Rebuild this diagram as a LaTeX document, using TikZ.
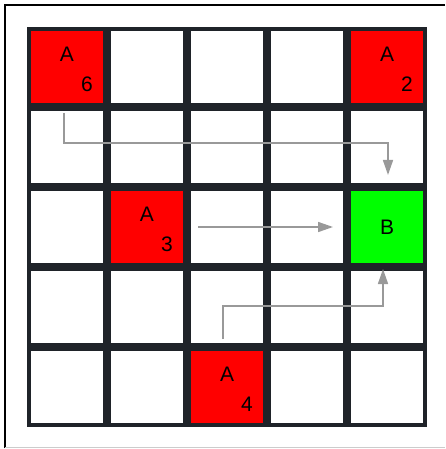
\documentclass[tikz,border=0pt]{standalone}
\usepackage{fontspec}
\setmainfont{Liberation Sans}
\usetikzlibrary{arrows.meta}
\definecolor{gridline}{RGB}{31,35,41}
\definecolor{agent}{RGB}{255,0,0}
\definecolor{goal}{RGB}{0,255,0}

\begin{document}
\begin{tikzpicture}[x=1pt,y=-1pt,
    cell/.style={draw=gridline,line width=4pt,minimum size=76pt,inner sep=0pt,outer sep=0pt},
    move/.style={draw=black!40,line width=1.6pt,-{Triangle[length=15pt,width=10pt]}},
    tag/.style={font=\fontsize{21}{21}\selectfont,inner sep=0pt}]
  \useasboundingbox (0,0) rectangle (445,449);
  % --- frame
  \draw[line width=2pt] (5,448) -- (5,5) -- (445,5);
  \draw[black!20,line width=1pt] (5,447.5) -- (445,447.5);
  % --- grid
  \foreach \i in {0,...,4}{
    \foreach \j in {0,...,4}{
      \node[cell] (c\i\j) at (67+80*\i,67+80*\j) {};}}
  % --- agents and goal
  \node[cell,fill=agent] (a6) at (c00) {};
  \node[cell,fill=agent] (a2) at (c40) {};
  \node[cell,fill=agent] (a3) at (c12) {};
  \node[cell,fill=agent] (a4) at (c24) {};
  \node[cell,fill=goal] (b) at (c42) {};
  \foreach \a/\n in {a6/6,a2/2,a3/3,a4/4}{
    \node[tag] (\a-name) at ([yshift=13pt]\a.center) {A};
    \node[tag] (\a-num) at ([xshift=20pt,yshift=-17pt]\a.center) {\n};}
  \node[tag] (b-name) at (b.center) {B};
  % --- moves
  \coordinate (from6) at (64,113);
  \coordinate (to6) at (388,175);
  \coordinate (from3) at (198,227);
  \coordinate (to3) at (333,227);
  \coordinate (from4) at (223,339);
  \coordinate (to4) at (383,269);
  \draw[move] (from6) -- ++(0,30) -| (to6);
  \draw[move] (from3) -- (to3);
  \draw[move] (from4) -- ++(0,-33) -| (to4);
\end{tikzpicture}
\end{document}
